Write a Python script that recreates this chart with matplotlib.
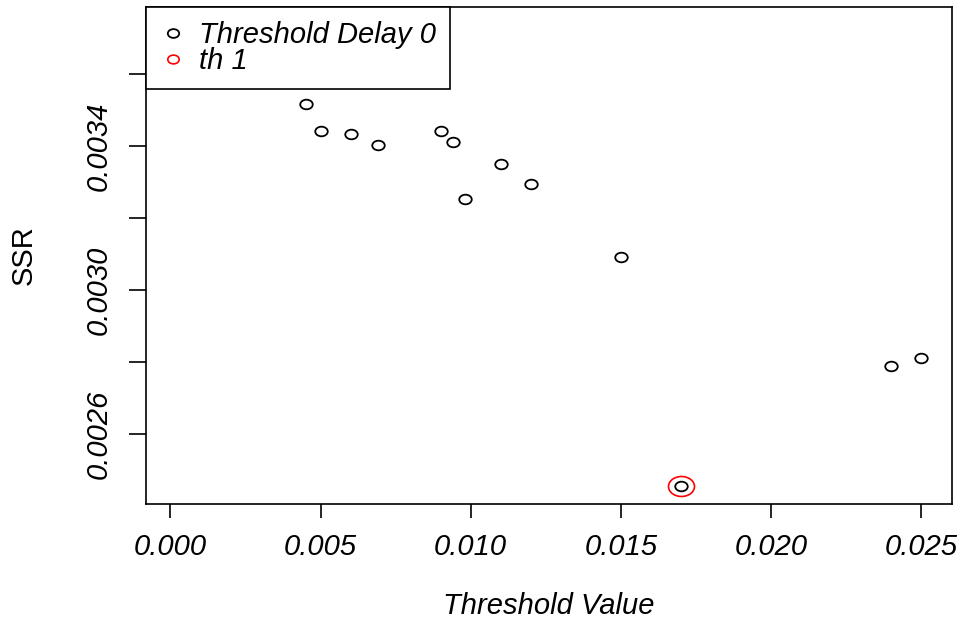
import matplotlib
matplotlib.use("Agg")
import matplotlib.pyplot as plt
from matplotlib.path import Path
from matplotlib.transforms import Affine2D

plt.rcParams["font.family"] = ["Liberation Sans", "DejaVu Sans"]

# values
threshold = [0.0045, 0.0050, 0.0060, 0.0069, 0.0090, 0.0094, 0.0098,
             0.0110, 0.0120, 0.0150, 0.0170, 0.0240, 0.0250]
ssr = [0.003516, 0.003442, 0.003434, 0.003403, 0.003442, 0.003412, 0.003253,
       0.003349, 0.003295, 0.003091, 0.002458, 0.002791, 0.002813]

best_threshold = [0.0170]
best_ssr = [0.002458]

x_ticks = [0.000, 0.005, 0.010, 0.015, 0.020, 0.025]
x_tick_labels = ["0.000", "0.005", "0.010", "0.015", "0.020", "0.025"]
y_ticks = [0.0026, 0.0028, 0.0030, 0.0032, 0.0034, 0.0036]
y_tick_labels = ["0.0026", "", "0.0030", "", "0.0034", ""]

FS = 21

# R output was stretched sideways, so circles look like flat ellipses
ellipse = Path.unit_circle().transformed(Affine2D().scale(1.3, 1.0))

fig = plt.figure(figsize=(9.62, 6.2), dpi=100)
ax = fig.add_axes([0.1518, 0.1871, 0.8375, 0.8016])

ax.plot(threshold, ssr, linestyle="none", marker=ellipse, markersize=9,
        markerfacecolor="none", markeredgecolor="black", markeredgewidth=1.3,
        label="Threshold Delay 0")
ax.plot(best_threshold, best_ssr, linestyle="none", marker=ellipse,
        markersize=18.7, markerfacecolor="none", markeredgecolor="red",
        markeredgewidth=1.2, label="th 1")

ax.set_xlim(-0.00081, 0.02601)
ax.set_ylim(0.002407, 0.003785)

ax.set_xticks(x_ticks)
ax.set_xticklabels(x_tick_labels, fontsize=FS, style="italic")
ax.set_yticks(y_ticks)
ax.set_yticklabels(y_tick_labels, fontsize=FS, style="italic",
                   rotation=90, va="center")

ax.tick_params(axis="x", length=10, width=1.2, pad=11)
ax.tick_params(axis="y", length=12.2, width=1.2, pad=11.5)
for sp in ax.spines.values():
    sp.set_linewidth(1.2)

ax.set_xlabel("Threshold Value", fontsize=FS, style="italic", va="center")
ax.xaxis.set_label_coords(0.5, -0.205)
ax.set_ylabel("SSR", fontsize=FS, va="center")
ax.yaxis.set_label_coords(-0.1523, 0.5)

leg = ax.legend(loc="upper left", bbox_to_anchor=(0, 1), borderaxespad=0,
                prop={"style": "italic", "size": FS},
                frameon=True, fancybox=False, edgecolor="black",
                borderpad=0.48, handlelength=0.9, handletextpad=0.44,
                labelspacing=-0.07)
leg.get_frame().set_linewidth(1.2)
leg.get_frame().set_alpha(1)
leg.legend_handles[0].set_markersize(8.2)
leg.legend_handles[1].set_markersize(8.2)

fig.savefig("out.png", dpi=100)
